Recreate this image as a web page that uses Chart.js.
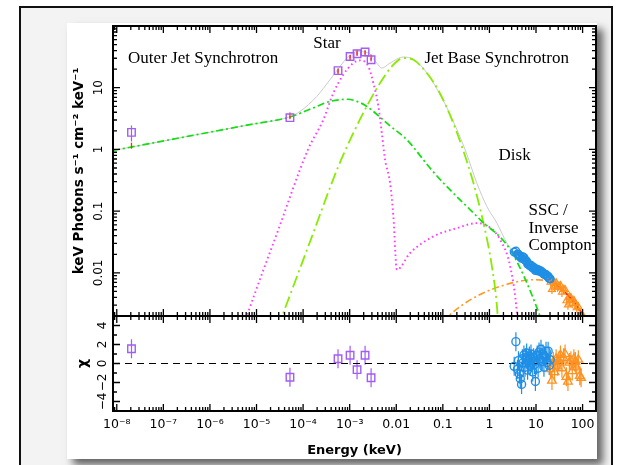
<!DOCTYPE html>
<html>
<head>
<meta charset="utf-8">
<title>Broadband spectrum</title>
<script src="https://cdn.jsdelivr.net/npm/chart.js@4.4.1/dist/chart.umd.min.js"></script>
<style>
  html, body { margin: 0; padding: 0; background: #fff; }
  body { width: 618px; height: 465px; position: relative; overflow: hidden; }
  #frame { position: absolute; left: 19px; top: 6px; width: 594px; height: 480px; box-sizing: border-box;
           border: 2px solid #111; background: #f3f3f3; }
  #card { position: absolute; left: 67px; top: 23px; width: 530px; height: 436px; background: #fff;
          box-shadow: 6px 6px 8px rgba(0, 0, 0, 0.6); }
  canvas { position: absolute; left: 67px; }
  #specChart { top: 23px; }
  #residChart { top: 314px; }
</style>
</head>
<body>
<div id="frame"></div>
<div id="card"></div>
<canvas id="specChart" width="530" height="295"></canvas>
<canvas id="residChart" width="530" height="145"></canvas>
<script>
// ---- axes ----
const xTickValues = [1e-8, 1e-7, 1e-6, 1e-5, 1e-4, 1e-3, 0.01, 0.1, 1, 10, 100];
const xTickText = ['10⁻⁸', '10⁻⁷', '10⁻⁶', '10⁻⁵', '10⁻⁴', '10⁻³', '0.01', '0.1', '1', '10', '100'];
const fluxTickValues = [0.01, 0.1, 1, 10];
const fluxTickText = ['0.01', '0.1', '1', '10'];
const chiTickValues = [-4, -2, 0, 2, 4];
const chiTickText = ['−4', '−2', '0', '2', '4'];

// ---- model components (energy keV, keV Photons s^-1 cm^-2 keV^-1) ----
const totalE = [8.3e-9, 4.3e-7, 7.2e-6, 5.25e-5, 8.57e-5, 1.96e-4, 3.78e-4, 6.21e-4, 9.35e-4, 1.42e-3, 2.52e-3, 3.81e-3, 4.89e-3, 7.36e-3, 0.0142, 0.0233, 0.0453, 0.0743, 0.132, 0.301, 0.537, 0.881, 1.45, 2.37, 3.29, 5.40, 6.90, 15.8, 25.9, 59.2, 97, 158];
const totalF = [0.96, 1.69, 2.52, 3.4, 4.13, 7.2, 13.5, 22.1, 32.1, 38.7, 36.5, 25.1, 20.8, 25.1, 31.4, 29, 17.5, 9.6, 4.2, 0.99, 0.285, 0.119, 0.064, 0.0304, 0.0222, 0.0176, 0.0135, 0.0093, 0.00665, 0.00366, 0.00223, 0.0011];

const outerJetE = [8.3e-9, 4.3e-7, 7.2e-6, 5.2e-5, 1.63e-4, 3.8e-4, 9.2e-4, 1.42e-3, 2.14e-3, 7.4e-3, 0.0168, 0.053, 0.101, 0.632, 2.79, 11.2, 17.8];
const outerJetF = [0.96, 1.69, 2.52, 3.35, 4.7, 6.0, 6.5, 6.0, 5.2, 2.4, 1.44, 0.50, 0.29, 0.073, 0.0237, 0.00237, 0.0008];

const starE = [4.47e-6, 6.53e-6, 2.88e-5, 1.27e-4, 2.72e-4, 4.46e-4, 7.3e-4, 1.20e-3, 1.67e-3, 2.52e-3, 3.22e-3, 4.13e-3, 4.89e-3, 5.75e-3, 7.36e-3, 8.67e-3, 0.0103, 0.0198, 0.0628, 0.200, 0.537, 0.955, 1.70, 2.79, 3.89, 4.17];
const starF = [0.00093, 0.00223, 0.048, 0.99, 3.03, 8.2, 16.3, 25.1, 27.7, 22.1, 11.9, 4.98, 1.85, 0.68, 0.288, 0.082, 0.0112, 0.021, 0.039, 0.053, 0.064, 0.0565, 0.0344, 0.0127, 0.00223, 0.001];

const jetBaseE = [2.82e-5, 3.75e-5, 1.29e-4, 5.7e-4, 1.20e-3, 2.32e-3, 4.49e-3, 8.02e-3, 0.0142, 0.0233, 0.0453, 0.0743, 0.132, 0.256, 0.454, 0.745, 1.13, 1.49, 1.58];
const jetBaseF = [0.00126, 0.00223, 0.0268, 0.531, 1.85, 4.98, 11.9, 22.1, 30.3, 28.4, 17.3, 10, 4.13, 1.12, 0.285, 0.064, 0.0127, 0.00223, 0.001];

const sscE = [0.1, 0.156, 0.454, 1.70, 8.85, 23.8, 64.1, 105, 158];
const sscF = [0.00158, 0.00223, 0.00391, 0.00603, 0.00773, 0.00684, 0.00366, 0.00223, 0.001];

const modelE = [3.29, 5.40, 6.90, 15.8, 25.9, 59.2, 97, 130];
const modelF = [0.0222, 0.0176, 0.0135, 0.0093, 0.00665, 0.00366, 0.00223, 0.0015];

// ---- data ----
const uvoirE = [2.07e-8, 5.22e-5, 5.62e-4, 1.02e-3, 1.44e-3, 2.14e-3, 2.88e-3];
const uvoirF = [1.89, 3.27, 18.9, 32.1, 35.6, 37.9, 28.4];
const uvoirErr = [0.55, 0.2, 1.2, 2.0, 2.2, 2.4, 1.8];
const uvoirModel = [1.15, 3.55, 18.3, 30.4, 37.0, 35.8, 31.0];
const uvoirChi = [1.55, -1.45, 0.5, 0.87, -0.65, 0.87, -1.5];

const softE = [3.4, 3.7, 4.0, 4.2, 4.4, 4.6, 4.9, 5.1, 5.3, 5.5, 5.8, 6.0, 6.3, 6.6, 6.9, 7.2, 7.5, 7.8, 8.1, 8.5, 8.9, 9.3, 9.7, 10.1, 10.6, 11.1, 11.6, 12.2, 12.8, 13.4, 14.1, 14.8, 15.6, 16.4, 17.3, 18.2, 19.2, 20.2];
const softF = [0.0217, 0.0225, 0.0200, 0.0200, 0.0189, 0.0181, 0.0172, 0.0183, 0.0178, 0.0177, 0.0161, 0.0160, 0.0154, 0.0139, 0.0136, 0.0136, 0.0129, 0.0133, 0.0127, 0.0120, 0.0123, 0.0118, 0.0109, 0.0115, 0.0114, 0.0107, 0.0111, 0.0106, 0.0107, 0.0101, 0.0101, 0.0095, 0.0095, 0.0094, 0.0088, 0.0088, 0.0081, 0.0080];
const softChi = [-0.3, 2.3, -0.6, 0.3, -1.1, -1.6, -2.2, 0.5, 0.1, 0.9, -0.4, 0.6, 1.1, -0.7, 0.2, 0.8, -0.3, 1.0, 0.4, -0.9, 0.6, -0.1, -1.9, 0.3, 0.9, -0.5, 1.2, 0.5, 1.5, 0.2, 1.0, -0.4, 0.7, 1.3, 0.1, 1.3, -0.2, 0.4];

const hardE = [20.5, 22, 23.5, 25, 27, 29, 31, 33.5, 36, 39, 42, 45, 48.5, 52, 56, 60, 65, 70, 75, 81, 87, 93];
const hardF = [0.00710, 0.00542, 0.00732, 0.00589, 0.00694, 0.00586, 0.00611, 0.00627, 0.00486, 0.00540, 0.00539, 0.00353, 0.00302, 0.00408, 0.00398, 0.00318, 0.00358, 0.00319, 0.00272, 0.00283, 0.00200, 0.00181];
const hardChi = [-0.6, -1.8, 0.2, -0.9, 0.5, -0.3, 0.3, 0.9, -0.5, 0.6, 1.0, -1.4, -1.9, 0.1, 0.3, -0.8, 0.5, 0.2, -0.4, 0.4, -1.3, -1.5];

const softRelErr = 0.05;
const hardRelErr = 0.16;

// ---- text labels placed in data coordinates ----
const componentLabels = [
  { text: 'Outer Jet Synchrotron', x: 1.75e-8, y: 25.1 },
  { text: 'Star', x: 1.66e-4, y: 44 },
  { text: 'Jet Base Synchrotron', x: 0.0402, y: 25.1 },
  { text: 'Disk', x: 1.57, y: 0.668 },
  { text: 'SSC /', x: 6.9, y: 0.0875 },
  { text: 'Inverse', x: 6.9, y: 0.0447 },
  { text: 'Compton', x: 6.9, y: 0.0232 }
];

const xMin = 8.3e-9, xMax = 194;
const pts = (E, V) => E.map((e, i) => ({ x: e, y: V[i] }));
const minorsOf = decades => decades.flatMap(d => [2, 3, 4, 5, 6, 7, 8, 9].map(m => d * m));

Chart.defaults.font.family = 'DejaVu Sans';
Chart.defaults.color = '#000';

// keep the plot box fixed: no extra room for overhanging tick labels
const noOverhang = s => { s.paddingTop = 0; s.paddingBottom = 0; s.paddingLeft = 0; s.paddingRight = 0; };

// inward ticks on all four sides plus the box
function frameTicks(xMaj, xMin_, yMaj, yMin_) {
  return {
    id: 'frameTicks',
    afterDatasetsDraw(chart) {
      const { ctx, chartArea: a, scales: { x, y } } = chart;
      ctx.save();
      ctx.strokeStyle = '#000';
      ctx.lineWidth = 1.3;
      ctx.beginPath();
      const xt = (v, len) => {
        const p = x.getPixelForValue(v);
        if (p < a.left + 1 || p > a.right - 1) return;
        ctx.moveTo(p, a.top); ctx.lineTo(p, a.top + len);
        ctx.moveTo(p, a.bottom); ctx.lineTo(p, a.bottom - len);
      };
      const yt = (v, len) => {
        const p = y.getPixelForValue(v);
        if (p < a.top + 1 || p > a.bottom - 1) return;
        ctx.moveTo(a.left, p); ctx.lineTo(a.left + len, p);
        ctx.moveTo(a.right, p); ctx.lineTo(a.right - len, p);
      };
      xMaj.forEach(v => xt(v, 7));
      xMin_.forEach(v => xt(v, 4));
      yMaj.forEach(v => yt(v, 7));
      yMin_.forEach(v => yt(v, 4));
      ctx.stroke();
      ctx.lineWidth = 2;
      ctx.strokeRect(a.left, a.top, a.right - a.left, a.bottom - a.top);
      ctx.restore();
    }
  };
}

// vertical error bars from dataset.yErr
const errorBars = {
  id: 'errorBars',
  beforeDatasetsDraw(chart) {
    const { ctx, chartArea: a, scales: { y } } = chart;
    ctx.save();
    ctx.beginPath();
    ctx.rect(a.left, a.top, a.right - a.left, a.bottom - a.top);
    ctx.clip();
    chart.data.datasets.forEach((ds, di) => {
      if (!ds.yErr) return;
      const meta = chart.getDatasetMeta(di);
      ctx.strokeStyle = ds.borderColor;
      ctx.lineWidth = 1.2;
      ctx.beginPath();
      meta.data.forEach((el, i) => {
        const v = ds.data[i].y, e = ds.yErr[i];
        ctx.moveTo(el.x, y.getPixelForValue(v - e));
        ctx.lineTo(el.x, y.getPixelForValue(v + e));
      });
      ctx.stroke();
    });
    ctx.restore();
  }
};

const componentText = {
  id: 'componentText',
  afterDatasetsDraw(chart) {
    const { ctx, scales: { x, y } } = chart;
    ctx.save();
    ctx.font = '17px "Liberation Serif"';
    ctx.fillStyle = '#000';
    ctx.textAlign = 'left';
    ctx.textBaseline = 'alphabetic';
    componentLabels.forEach(l => ctx.fillText(l.text, x.getPixelForValue(l.x), y.getPixelForValue(l.y)));
    ctx.restore();
  }
};

const curve = (E, F, color, width, dash) => ({
  type: 'line', data: pts(E, F), borderColor: color, borderWidth: width, borderDash: dash,
  pointRadius: 0, fill: false, cubicInterpolationMode: 'monotone'
});

const yAxisLabelFont = { family: 'DejaVu Sans', size: 12 };
const titleFont = { family: 'DejaVu Sans', size: 13, weight: 'bold' };

// ---- upper panel: unfolded spectrum ----
new Chart(document.getElementById('specChart'), {
  type: 'scatter',
  data: {
    datasets: [
      { data: pts(uvoirE, uvoirF), yErr: uvoirErr, pointStyle: 'rect', pointRadius: 5.3, borderColor: '#a25cf7', backgroundColor: 'transparent', pointBorderWidth: 1.4 },
      { data: pts(uvoirE, uvoirModel), pointStyle: 'line', rotation: 90, pointRadius: 3, borderColor: '#ff2a00', pointBorderWidth: 1.3 },
      { data: pts(softE, softF), yErr: softF.map(f => f * softRelErr), pointStyle: 'circle', pointRadius: 3.8, borderColor: '#1f8fe6', backgroundColor: 'transparent', pointBorderWidth: 1.5 },
      { data: pts(hardE, hardF), yErr: hardF.map(f => f * hardRelErr), pointStyle: 'triangle', pointRadius: 4, borderColor: '#ff9120', backgroundColor: 'transparent', pointBorderWidth: 1.2 },
      curve(modelE, modelF, '#ff1f00', 1.6, []),
      curve(outerJetE, outerJetF, '#10e010', 1.7, [7, 3, 2, 3]),
      curve(starE, starF, '#ff3cff', 1.9, [1.6, 3]),
      curve(jetBaseE, jetBaseF, '#88ec00', 1.8, [12, 4, 2, 4]),
      curve(sscE, sscF, '#ff9a1f', 1.6, [7, 3, 2, 3]),
      curve(totalE, totalF, '#cbcbcb', 1, [])
    ]
  },
  options: {
    responsive: false,
    animation: false,
    events: [],
    layout: { autoPadding: false, padding: { left: 0, right: 1, top: 3, bottom: 2 } },
    plugins: { legend: { display: false }, tooltip: { enabled: false } },
    scales: {
      x: { type: 'logarithmic', min: xMin, max: xMax, display: false },
      y: {
        type: 'logarithmic', min: 0.002, max: 100,
        afterBuildTicks: s => { s.ticks = fluxTickValues.map(v => ({ value: v })); },
        afterFit: s => { s.width = 46; noOverhang(s); },
        grid: { display: false, drawTicks: false },
        border: { display: false },
        ticks: { autoSkip: false, minRotation: 90, maxRotation: 90, crossAlign: 'center', padding: 1,
                 font: yAxisLabelFont, callback: (v, i) => fluxTickText[i] },
        title: { display: true, text: 'keV Photons s⁻¹ cm⁻² keV⁻¹', font: { family: 'DejaVu Sans', size: 13.5, weight: 'bold' }, padding: { top: 4 } }
      }
    }
  },
  plugins: [errorBars, componentText,
    frameTicks(xTickValues, minorsOf([1e-9, ...xTickValues]), [0.01, 0.1, 1, 10], minorsOf([0.001, 0.01, 0.1, 1, 10]))]
});

// ---- lower panel: residuals ----
new Chart(document.getElementById('residChart'), {
  type: 'scatter',
  data: {
    datasets: [
      { data: pts(uvoirE, uvoirChi), yErr: uvoirChi.map(() => 1), pointStyle: 'rect', pointRadius: 5.3, borderColor: '#a25cf7', backgroundColor: 'transparent', pointBorderWidth: 1.4 },
      { data: pts(softE, softChi), yErr: softChi.map(() => 1), pointStyle: 'circle', pointRadius: 4, borderColor: '#1f8fe6', backgroundColor: 'transparent', pointBorderWidth: 1.4 },
      { data: pts(hardE, hardChi), yErr: hardChi.map(() => 1), pointStyle: 'triangle', pointRadius: 5, borderColor: '#ff9120', backgroundColor: 'transparent', pointBorderWidth: 1.3 },
      { type: 'line', data: pts([xMin, xMax], [0, 0]), borderColor: '#000', borderWidth: 1, borderDash: [7, 5], pointRadius: 0 }
    ]
  },
  options: {
    responsive: false,
    animation: false,
    events: [],
    layout: { autoPadding: false, padding: { left: 0, right: 1, top: 2, bottom: 0 } },
    plugins: { legend: { display: false }, tooltip: { enabled: false } },
    scales: {
      x: {
        type: 'logarithmic', min: xMin, max: xMax,
        afterBuildTicks: s => { s.ticks = xTickValues.map(v => ({ value: v })); },
        afterFit: s => { s.height = 48; noOverhang(s); },
        grid: { display: false, drawTicks: false },
        border: { display: false },
        ticks: { autoSkip: false, minRotation: 0, maxRotation: 0, padding: 6,
                 font: { family: 'DejaVu Sans', size: 12.5 }, callback: (v, i) => xTickText[i] },
        title: { display: true, text: 'Energy (keV)', font: titleFont, padding: { top: 0, bottom: 1 } }
      },
      y: {
        min: -5, max: 5,
        afterBuildTicks: s => { s.ticks = chiTickValues.map(v => ({ value: v })); },
        afterFit: s => { s.width = 46; noOverhang(s); },
        grid: { display: false, drawTicks: false },
        border: { display: false },
        ticks: { autoSkip: false, minRotation: 90, maxRotation: 90, crossAlign: 'center', padding: 1,
                 font: yAxisLabelFont, callback: (v, i) => chiTickText[i] },
        title: { display: true, text: 'χ', font: { family: 'DejaVu Sans', size: 14, weight: 'bold' }, padding: { top: 8 } }
      }
    }
  },
  plugins: [errorBars,
    frameTicks(xTickValues, minorsOf([1e-9, ...xTickValues]), chiTickValues, [-3, -1, 1, 3])]
});
</script>
</body>
</html>
